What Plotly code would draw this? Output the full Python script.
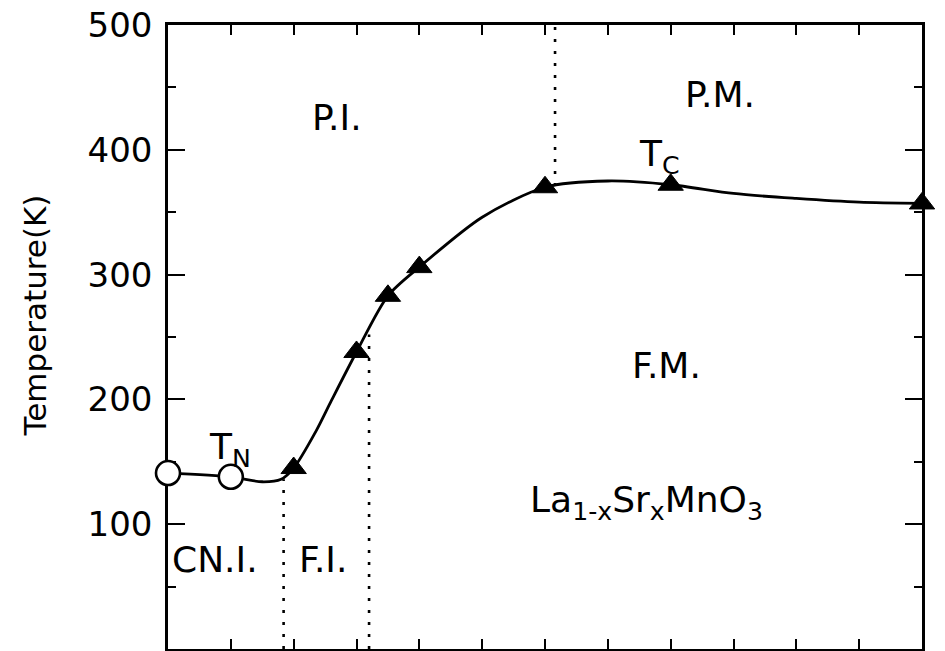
import plotly.graph_objects as go

# La(1-x)Sr(x)MnO3 magnetic / electronic phase diagram
# Neel temperatures (open circles)
tn_x = [0.0, 0.05]
tn_T = [141, 138]

# Curie temperatures (filled triangles)
tc_x = [0.1, 0.15, 0.175, 0.2, 0.3, 0.4, 0.6]
tc_T = [145, 238, 283, 306, 370, 372, 357]

# Phase boundary traced through the transition points
boundary_x = [0.0, 0.05, 0.075, 0.09, 0.1, 0.118, 0.13, 0.15, 0.175, 0.2,
              0.25, 0.3, 0.35, 0.4, 0.45, 0.5, 0.55, 0.6]
boundary_T = [141, 138, 134, 136, 145, 175, 199, 238, 283, 306,
              346, 370, 375, 372, 365, 361, 358, 357]

# Dotted separators between regions: (x, T_low, T_high)
separators = [(0.092, 0, 136), (0.16, 0, 252), (0.308, 371, 500)]

# Region labels: (text, x, T)
region_labels = [
    ("P.I.", 0.113, 426),
    ("P.M.", 0.41, 444),
    ("F.M.", 0.3675, 227),
    ("La<sub>1-x</sub>Sr<sub>x</sub>MnO<sub>3</sub>", 0.2865, 117),
    ("CN.I.", 0.0016, 72),
    ("F.I.", 0.1026, 72),
    ("T<sub>N</sub>", 0.031, 160),
    ("T<sub>C</sub>", 0.373, 395),
]

y_ticks = [100, 200, 300, 400, 500]

FONT = "DejaVu Sans"

fig = go.Figure()

for sx, t0, t1 in separators:
    fig.add_trace(go.Scatter(
        x=[sx, sx], y=[t0, t1], mode="lines",
        line=dict(color="black", width=2.6, dash="3px,9px"),
        hoverinfo="skip", showlegend=False, cliponaxis=False))

fig.add_trace(go.Scatter(
    x=boundary_x, y=boundary_T, mode="lines",
    line=dict(color="black", width=2.8, shape="spline", smoothing=0.8),
    showlegend=False, cliponaxis=False))

fig.add_trace(go.Scatter(
    x=tc_x, y=tc_T, mode="markers",
    marker=dict(symbol="triangle-up", size=22, color="black",
                line=dict(color="black", width=1)),
    showlegend=False, cliponaxis=False))

fig.add_trace(go.Scatter(
    x=tn_x, y=tn_T, mode="markers",
    marker=dict(symbol="circle", size=24, color="white",
                line=dict(color="black", width=2.6)),
    showlegend=False, cliponaxis=False))

for text, lx, lt in region_labels:
    fig.add_annotation(
        x=lx, y=lt, xref="x", yref="y", text=text, showarrow=False,
        xanchor="left", yanchor="middle",
        font=dict(family=FONT, size=36, color="black"))

# Rotated axis title
fig.add_annotation(
    x=-0.176, y=0.535, xref="paper", yref="paper", text="Temperature(K)",
    textangle=-90, showarrow=False, xanchor="center", yanchor="middle",
    font=dict(family=FONT, size=31, color="black"))

fig.update_xaxes(
    range=[0, 0.6], dtick=0.05, tick0=0,
    showline=True, linecolor="black", linewidth=2.5, mirror="ticks",
    ticks="inside", ticklen=10, tickwidth=2, tickcolor="black",
    showticklabels=False, showgrid=False, zeroline=False,
    layer="below traces")

fig.update_yaxes(
    range=[0, 500], tickvals=y_ticks, ticktext=[str(v) for v in y_ticks],
    showline=True, linecolor="black", linewidth=2.5, mirror="ticks",
    ticks="inside", ticklen=17, tickwidth=2, tickcolor="black",
    minor=dict(dtick=50, ticks="inside", ticklen=8, tickwidth=2,
               tickcolor="black"),
    tickfont=dict(family=FONT, size=34, color="black"),
    ticklabelstandoff=6,
    showgrid=False, zeroline=False, layer="below traces")

fig.update_layout(
    width=945, height=651,
    margin=dict(l=168, r=23, t=25, b=2),
    paper_bgcolor="white", plot_bgcolor="white",
    font=dict(family=FONT, color="black"),
)

fig.write_html("out.html")
